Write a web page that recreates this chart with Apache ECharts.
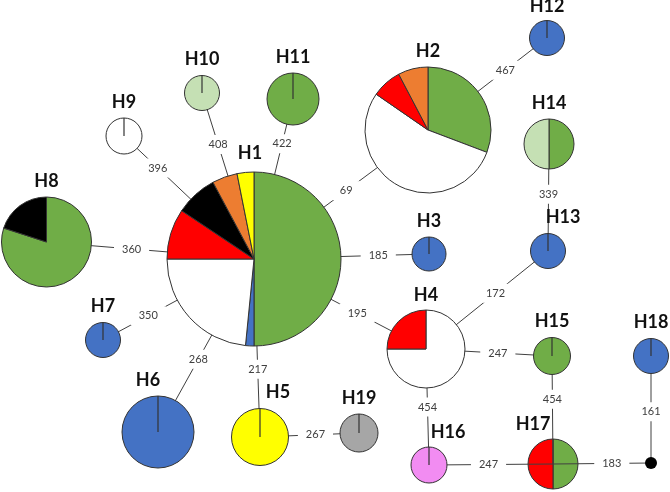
<!DOCTYPE html>
<html>
<head>
<meta charset="utf-8">
<script src="https://cdn.jsdelivr.net/npm/echarts@6/dist/echarts.min.js"></script>
<style>
  html, body { margin: 0; padding: 0; background: #fff; }
  #chart { width: 670px; height: 492px; }
</style>
</head>
<body>
<div id="chart"></div>
<script>
// haplotypes (last one is the median vector, drawn as a black dot)
const names = ['H1', 'H2', 'H3', 'H4', 'H5', 'H6', 'H7', 'H8', 'H9', 'H10',
  'H11', 'H12', 'H13', 'H14', 'H15', 'H16', 'H17', 'H18', 'H19', 'mv']
// network layout, in layout units
const nodeX = [254, 428, 429, 426, 260, 158, 103, 46.5, 124, 202, 293, 547, 548, 549, 552, 429, 553, 651, 359, 651]
const nodeY = [259, 130, 254, 349, 437, 432, 340, 242, 136, 93, 99, 38, 251, 144, 356, 465, 464, 356, 433, 463]
const nodeR = [87, 63, 17, 39, 28.5, 36, 17.5, 45, 18, 17.5, 26, 17.5, 17.5, 25, 18.5, 18, 25, 17.5, 19, 6]

// counts per group, one value per haplotype
const green = [32, 4, 0, 0, 0, 0, 0, 4, 0, 0, 1, 0, 0, 1, 1, 0, 1, 0, 0, 0]
const blue = [1, 0, 1, 0, 0, 1, 1, 0, 0, 0, 0, 1, 1, 0, 0, 0, 0, 1, 0, 0]
const white = [15, 7, 0, 3, 0, 0, 0, 0, 1, 0, 0, 0, 0, 0, 0, 0, 0, 0, 0, 0]
const red = [6, 1, 0, 1, 0, 0, 0, 0, 0, 0, 0, 0, 0, 0, 0, 0, 1, 0, 0, 0]
const black = [5, 0, 0, 0, 0, 0, 0, 1, 0, 0, 0, 0, 0, 0, 0, 0, 0, 0, 0, 0]
const orange = [3, 1, 0, 0, 0, 0, 0, 0, 0, 0, 0, 0, 0, 0, 0, 0, 0, 0, 0, 0]
const yellow = [2, 0, 0, 0, 1, 0, 0, 0, 0, 0, 0, 0, 0, 0, 0, 0, 0, 0, 0, 0]
const lightGreen = [0, 0, 0, 0, 0, 0, 0, 0, 0, 1, 0, 0, 0, 1, 0, 0, 0, 0, 0, 0]
const grey = [0, 0, 0, 0, 0, 0, 0, 0, 0, 0, 0, 0, 0, 0, 0, 0, 0, 0, 1, 0]
const pink = [0, 0, 0, 0, 0, 0, 0, 0, 0, 0, 0, 0, 0, 0, 0, 1, 0, 0, 0, 0]

// links and mutation labels
const edgeFrom = ['H1', 'H1', 'H1', 'H1', 'H1', 'H1', 'H1', 'H1', 'H1', 'H1', 'H2', 'H14', 'H4', 'H4', 'H4', 'H5', 'H15', 'H16', 'H17', 'H18']
const edgeTo = ['H2', 'H3', 'H4', 'H5', 'H6', 'H7', 'H8', 'H9', 'H10', 'H11', 'H12', 'H13', 'H13', 'H15', 'H16', 'H19', 'H17', 'H17', 'mv', 'mv']
const edgeLabel = ['69', '185', '195', '217', '268', '350', '360', '396', '408', '422', '467', '339', '172', '247', '454', '267', '454', '247', '183', '161']
const edgeT = [0.53, 0.71, 0.6, 0.62, 0.58, 0.7, 0.59, 0.74, 0.69, 0.72, 0.65, 0.47, 0.57, 0.57, 0.5, 0.56, 0.4, 0.48, 0.6, 0.52]

const groups = [
  { color: '#70ad47', counts: green },
  { color: '#4472c4', counts: blue },
  { color: '#ffffff', counts: white },
  { color: '#ff0000', counts: red },
  { color: '#000000', counts: black },
  { color: '#ed7d31', counts: orange },
  { color: '#ffff00', counts: yellow },
  { color: '#c5e0b4', counts: lightGreen },
  { color: '#a6a6a6', counts: grey },
  { color: '#f28cf2', counts: pink }
]
const labelDx = { H1: -4, H5: 18, H6: -10, H13: 15, H16: 19, H17: -20 }
const labelDy = { H1: -3, H12: 2, H4: 1, H16: 1, H17: 1 }
const edgesOver = ['H17']
const stroke = '#333333'

function renderNode(params, api) {
  const i = api.value(2)
  const c = api.coord([api.value(0), api.value(1)])
  const r = api.size([nodeR[i], 0])[0]
  const parts = groups.map(g => ({ color: g.color, n: g.counts[i] })).filter(p => p.n > 0)
  const total = parts.reduce((s, p) => s + p.n, 0)
  const children = []
  if (total === 0) {
    children.push({ type: 'circle', shape: { cx: c[0], cy: c[1], r: r }, style: { fill: '#000' } })
  } else if (parts.length === 1) {
    children.push({ type: 'circle', shape: { cx: c[0], cy: c[1], r: r }, style: { fill: parts[0].color, stroke: stroke, lineWidth: 1 } })
    children.push({ type: 'line', shape: { x1: c[0], y1: c[1], x2: c[0], y2: c[1] - r }, style: { stroke: stroke, lineWidth: 1.2 } })
  } else {
    let a = -Math.PI / 2
    parts.forEach(p => {
      const b = a + p.n / total * Math.PI * 2
      children.push({
        type: 'sector',
        shape: { cx: c[0], cy: c[1], r0: 0, r: r, startAngle: a, endAngle: b, clockwise: true },
        style: { fill: p.color, stroke: stroke, lineWidth: 1 }
      })
      a = b
    })
  }
  if (names[i] !== 'mv') {
    children.push({
      type: 'text',
      style: {
        text: names[i],
        x: c[0] + (labelDx[names[i]] || 0),
        y: c[1] - r - 16 + (labelDy[names[i]] || 0),
        align: 'center', verticalAlign: 'middle', fill: '#111', font: 'bold 18px Lato'
      }
    })
  }
  return { type: 'group', children: children }
}

function renderEdge(params, api) {
  const k = api.value(4)
  const p1 = api.coord([api.value(0), api.value(1)])
  const p2 = api.coord([api.value(2), api.value(3)])
  const t = edgeT[k]
  const lx = p1[0] + (p2[0] - p1[0]) * t
  const ly = p1[1] + (p2[1] - p1[1]) * t
  return {
    type: 'group',
    children: [
      { type: 'line', shape: { x1: p1[0], y1: p1[1], x2: p2[0], y2: p2[1] }, style: { stroke: '#404040', lineWidth: 1 } },
      {
        type: 'text',
        style: {
          text: edgeLabel[k], x: lx, y: ly, align: 'center', verticalAlign: 'middle',
          fill: '#404040', font: '11px Lato', backgroundColor: '#fff', padding: [4, 8]
        }
      }
    ]
  }
}

const nodeData = names.map((n, i) => [nodeX[i], nodeY[i], i])
const edgeData = edgeFrom.map((f, k) => {
  const a = names.indexOf(f)
  const b = names.indexOf(edgeTo[k])
  return [nodeX[a], nodeY[a], nodeX[b], nodeY[b], k]
})

const chart = echarts.init(document.getElementById('chart'))
chart.setOption({
  animation: false,
  backgroundColor: '#fff',
  grid: { left: 0, right: 0, top: 0, bottom: 0 },
  xAxis: { type: 'value', min: 0, max: 670, show: false },
  yAxis: { type: 'value', min: 0, max: 492, inverse: true, show: false },
  series: [
    {
      type: 'custom', z: 1, silent: true, clip: false,
      renderItem: renderNode,
      encode: { x: 0, y: 1 },
      data: nodeData.filter(d => edgesOver.includes(names[d[2]]))
    },
    {
      type: 'custom', z: 2, silent: true, clip: false,
      renderItem: renderEdge,
      encode: { x: [0, 2], y: [1, 3] },
      data: edgeData
    },
    {
      type: 'custom', z: 3, silent: true, clip: false,
      renderItem: renderNode,
      encode: { x: 0, y: 1 },
      data: nodeData.filter(d => !edgesOver.includes(names[d[2]]))
    }
  ]
})
</script>
</body>
</html>
